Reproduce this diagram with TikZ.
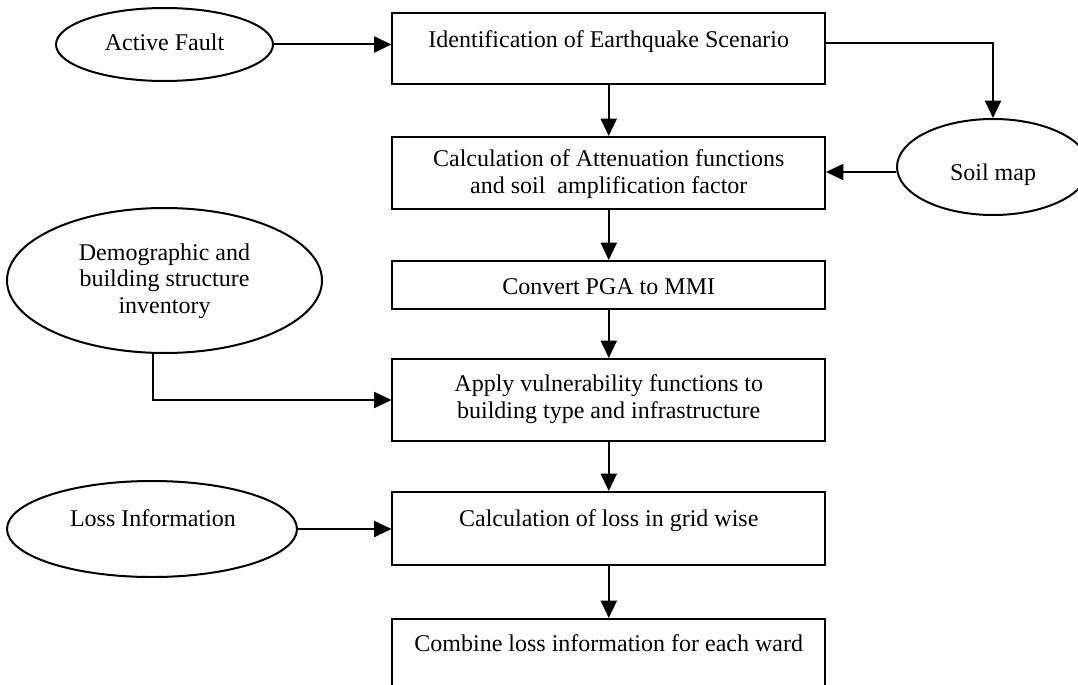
\documentclass[tikz,border=0pt]{standalone}
\usepackage{fontspec}
\setmainfont{Liberation Serif}
\usetikzlibrary{arrows.meta,shapes.geometric}
\begin{document}
\begin{tikzpicture}[x=0.75pt,y=-0.75pt,
  line width=1.5pt,
  box/.style={draw,rectangle,inner sep=0pt,minimum width=324.4pt},
  oval/.style={draw,ellipse,inner sep=0pt},
  txt/.style={inner sep=0pt,anchor=base,align=center,font=\fontsize{18pt}{20pt}\selectfont},
  arr/.style={-{Triangle[length=13pt,width=12pt]}}
]
\useasboundingbox (0,0) rectangle (1078,685);
\clip (0,0) rectangle (1078,685);

% process boxes
\node[box,minimum height=53.25pt] (b1) at (608.75,48.5) {};
\node[box,minimum height=54pt]    (b2) at (608.75,173) {};
\node[box,minimum height=36pt]    (b3) at (608.75,285) {};
\node[box,minimum height=61.5pt]  (b4) at (608.75,400) {};
\node[box,minimum height=54.75pt] (b5) at (608.75,528.5) {};
\node[box,minimum height=54pt]    (b6) at (608.75,655) {};

% input ovals
\node[oval,minimum width=162.75pt,minimum height=54.75pt] (fault) at (164.5,44.5) {};
\node[oval,minimum width=144pt,minimum height=72pt]       (soil)  at (993,167) {};
\node[oval,minimum width=236.25pt,minimum height=108.75pt] (demo) at (164.5,280.5) {};
\node[oval,minimum width=217.5pt,minimum height=72pt]     (loss)  at (152,529) {};

% texts (multi-line nodes: base = last line)
\node[txt] (tfault) at (164.5,51) {Active Fault};
\node[txt] (t1) at (608.75,47.5) {Identification of Earthquake Scenario};
\node[txt] (t2) at (608.75,193) {Calculation of Attenuation functions\\and soil~ amplification factor};
\node[txt] (tsoil) at (993,180) {Soil map};
\node[txt] (t3) at (608.75,294) {Convert PGA to MMI};
\node[txt] (tdemo) at (164.5,313.5) {Demographic and\\building structure\\inventory};
\node[txt] (t4) at (608.75,418) {Apply vulnerability functions to\\building type and infrastructure};
\node[txt] (tloss) at (153,526) {Loss Information};
\node[txt] (t5) at (608.75,526) {Calculation of loss in grid wise};
\node[txt] (t6) at (608.75,651) {Combine loss information for each ward};

% connectors
\draw[arr] (fault.east) -- (fault.east -| b1.west);
\draw[arr] ([yshift=4pt]b1.east) -| (soil.north);
\draw[arr] ([yshift=-3.75pt]soil.west) -- ([yshift=-3.75pt]soil.west -| b2.east);
\draw[arr] (b1) -- (b2);
\draw[arr] (b2) -- (b3);
\draw[arr] (b3) -- (b4);
\draw[arr] ([xshift=-8.6pt]demo.south) |- (b4.west);
\draw[arr] (b4) -- (b5);
\draw[arr] (loss.east) -- (loss.east -| b5.west);
\draw[arr] (b5) -- (b6);
\end{tikzpicture}
\end{document}
